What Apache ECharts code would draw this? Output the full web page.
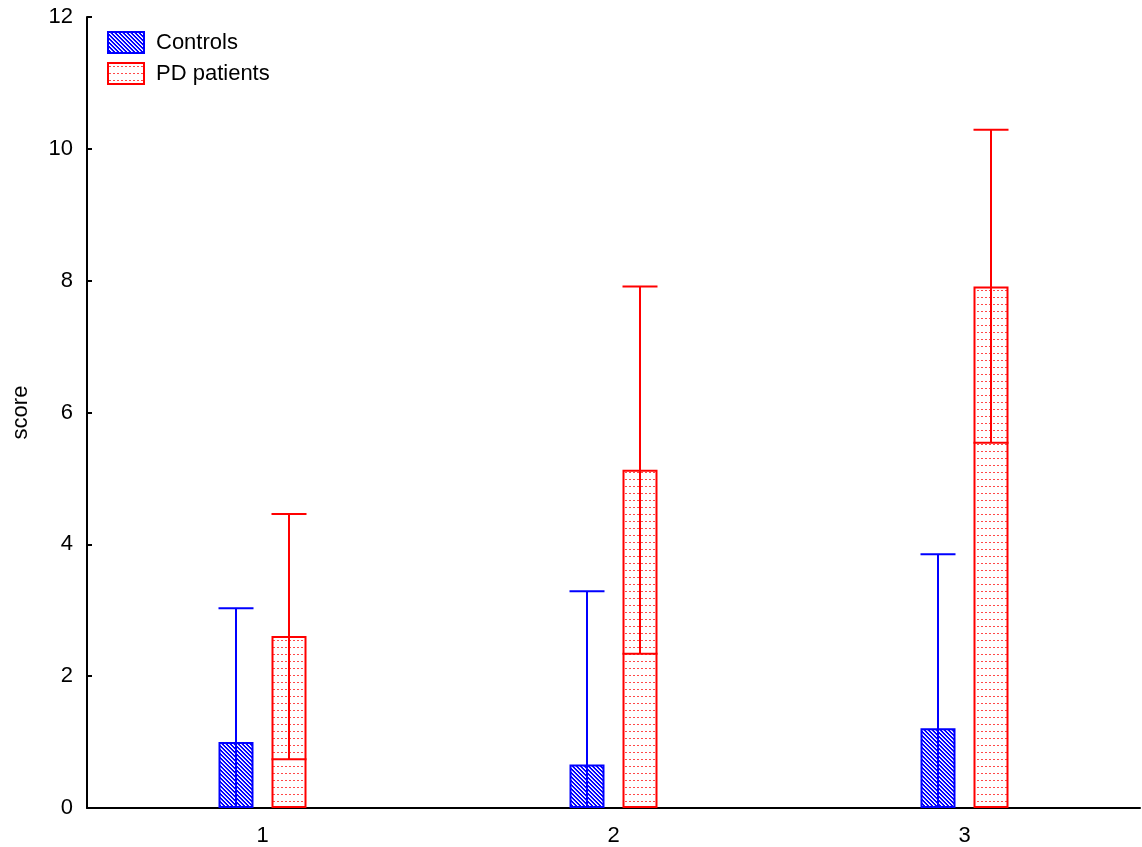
<!DOCTYPE html>
<html>
<head>
<meta charset="utf-8">
<script src="https://cdn.jsdelivr.net/npm/echarts@6/dist/echarts.min.js"></script>
<style>
html,body{margin:0;padding:0;background:#fff;}
#chart{width:1142px;height:847px;}
</style>
</head>
<body>
<div id="chart"></div>
<script>
// ---- data ----
const categories = ['1', '2', '3'];
const seriesNames = ['Controls', 'PD patients'];
const controlsMean = [1.00, 0.66, 1.21];
const controlsUpper = [3.03, 3.29, 3.85];
const controlsLower = [-1.03, -1.97, -1.43];
const pdMean = [2.61, 5.13, 7.91];
const pdUpper = [4.46, 7.91, 10.29];
const pdLower = [0.74, 2.34, 5.54];
const yTicks = [0, 2, 4, 6, 8, 10, 12];

// ---- styling ----
const BLUE = '#0000ff';
const RED = '#ff0000';
const FONT = '"Liberation Sans", Arial, sans-serif';
const BAR_W = 35;
const BAR_GAP_PX = 18;
const LW = 2;

function hatchPattern() {
  const c = document.createElement('canvas');
  c.width = 4; c.height = 4;
  const ctx = c.getContext('2d');
  ctx.fillStyle = BLUE;
  ctx.fillRect(0, 0, 4, 4);
  for (let y = 0; y < 4; y++) {
    ctx.fillStyle = '#ffffff';
    ctx.fillRect(y, y, 1, 1);
    ctx.fillStyle = '#c4c4ff';
    ctx.fillRect((y + 1) % 4, y, 1, 1);
  }
  return c;
}
function dotPattern() {
  const c = document.createElement('canvas');
  c.width = 4; c.height = 7;
  const ctx = c.getContext('2d');
  ctx.fillStyle = '#ffffff';
  ctx.fillRect(0, 0, 4, 7);
  ctx.fillStyle = '#ff4848';
  ctx.fillRect(1, 3, 2, 1);
  return c;
}

function errorSeries(name, low, high, color, sign) {
  const data = categories.map((c, i) => [i, low[i], high[i]]);
  return {
    type: 'custom',
    name: name,
    clip: true,
    z: 3,
    silent: true,
    data: data,
    renderItem: function (params, api) {
      const idx = api.value(0);
      const lo = api.value(1);
      const hi = api.value(2);
      const center = api.coord([idx, 0])[0];
      const x = center + sign * (BAR_W + BAR_GAP_PX) / 2;
      const y0 = api.coord([idx, Math.max(lo, 0)])[1];
      const y1 = api.coord([idx, hi])[1];
      const half = BAR_W / 2;
      const style = { stroke: color, lineWidth: LW, fill: null };
      const children = [
        { type: 'line', shape: { x1: x, y1: y0, x2: x, y2: y1 }, style: style },
        { type: 'line', shape: { x1: x - half, y1: y1, x2: x + half, y2: y1 }, style: style }
      ];
      if (lo > 0) {
        children.push({ type: 'line', shape: { x1: x - half, y1: y0, x2: x + half, y2: y0 }, style: style });
      }
      return { type: 'group', children: children };
    }
  };
}

const chart = echarts.init(document.getElementById('chart'), null, { renderer: 'canvas' });
const option = {
  animation: false,
  backgroundColor: '#ffffff',
  textStyle: { fontFamily: FONT, color: '#000' },
  grid: { left: 87, right: 2, top: 17, bottom: 39, containLabel: false, outerBoundsMode: 'none' },
  legend: {
    orient: 'vertical',
    left: 107,
    top: 31,
    padding: 0,
    itemWidth: 36,
    itemHeight: 21,
    itemGap: 8,
    icon: 'rect',
    selectedMode: false,
    data: seriesNames,
    textStyle: { fontSize: 22, fontFamily: FONT, color: '#000', padding: [0, 0, 0, 7] }
  },
  xAxis: {
    type: 'category',
    data: categories,
    axisLine: { lineStyle: { color: '#000', width: LW } },
    axisTick: { inside: true, length: 5, alignWithLabel: true, lineStyle: { color: '#000', width: LW } },
    axisLabel: { fontSize: 22, color: '#000', margin: 17, fontFamily: FONT },
    splitLine: { show: false }
  },
  yAxis: {
    type: 'value',
    min: yTicks[0],
    max: yTicks[yTicks.length - 1],
    interval: yTicks[1] - yTicks[0],
    name: 'score',
    nameLocation: 'middle',
    nameRotate: 90,
    nameGap: 55,
    nameTextStyle: { fontSize: 22, color: '#000', fontFamily: FONT },
    axisLine: { show: true, lineStyle: { color: '#000', width: LW } },
    axisTick: { show: true, inside: true, length: 5, lineStyle: { color: '#000', width: LW } },
    axisLabel: { fontSize: 22, color: '#000', margin: 14, fontFamily: FONT },
    splitLine: { show: false }
  },
  series: [
    {
      type: 'bar',
      name: seriesNames[0],
      data: controlsMean,
      barWidth: BAR_W,
      barGap: (BAR_GAP_PX / BAR_W * 100) + '%',
      itemStyle: { color: { image: hatchPattern(), repeat: 'repeat' }, borderColor: BLUE, borderWidth: LW }
    },
    {
      type: 'bar',
      name: seriesNames[1],
      data: pdMean,
      barWidth: BAR_W,
      barGap: (BAR_GAP_PX / BAR_W * 100) + '%',
      itemStyle: { color: { image: dotPattern(), repeat: 'repeat' }, borderColor: RED, borderWidth: LW }
    },
    errorSeries('Controls err', controlsLower, controlsUpper, BLUE, -1),
    errorSeries('PD err', pdLower, pdUpper, RED, 1)
  ]
};
chart.setOption(option);
</script>
</body>
</html>
